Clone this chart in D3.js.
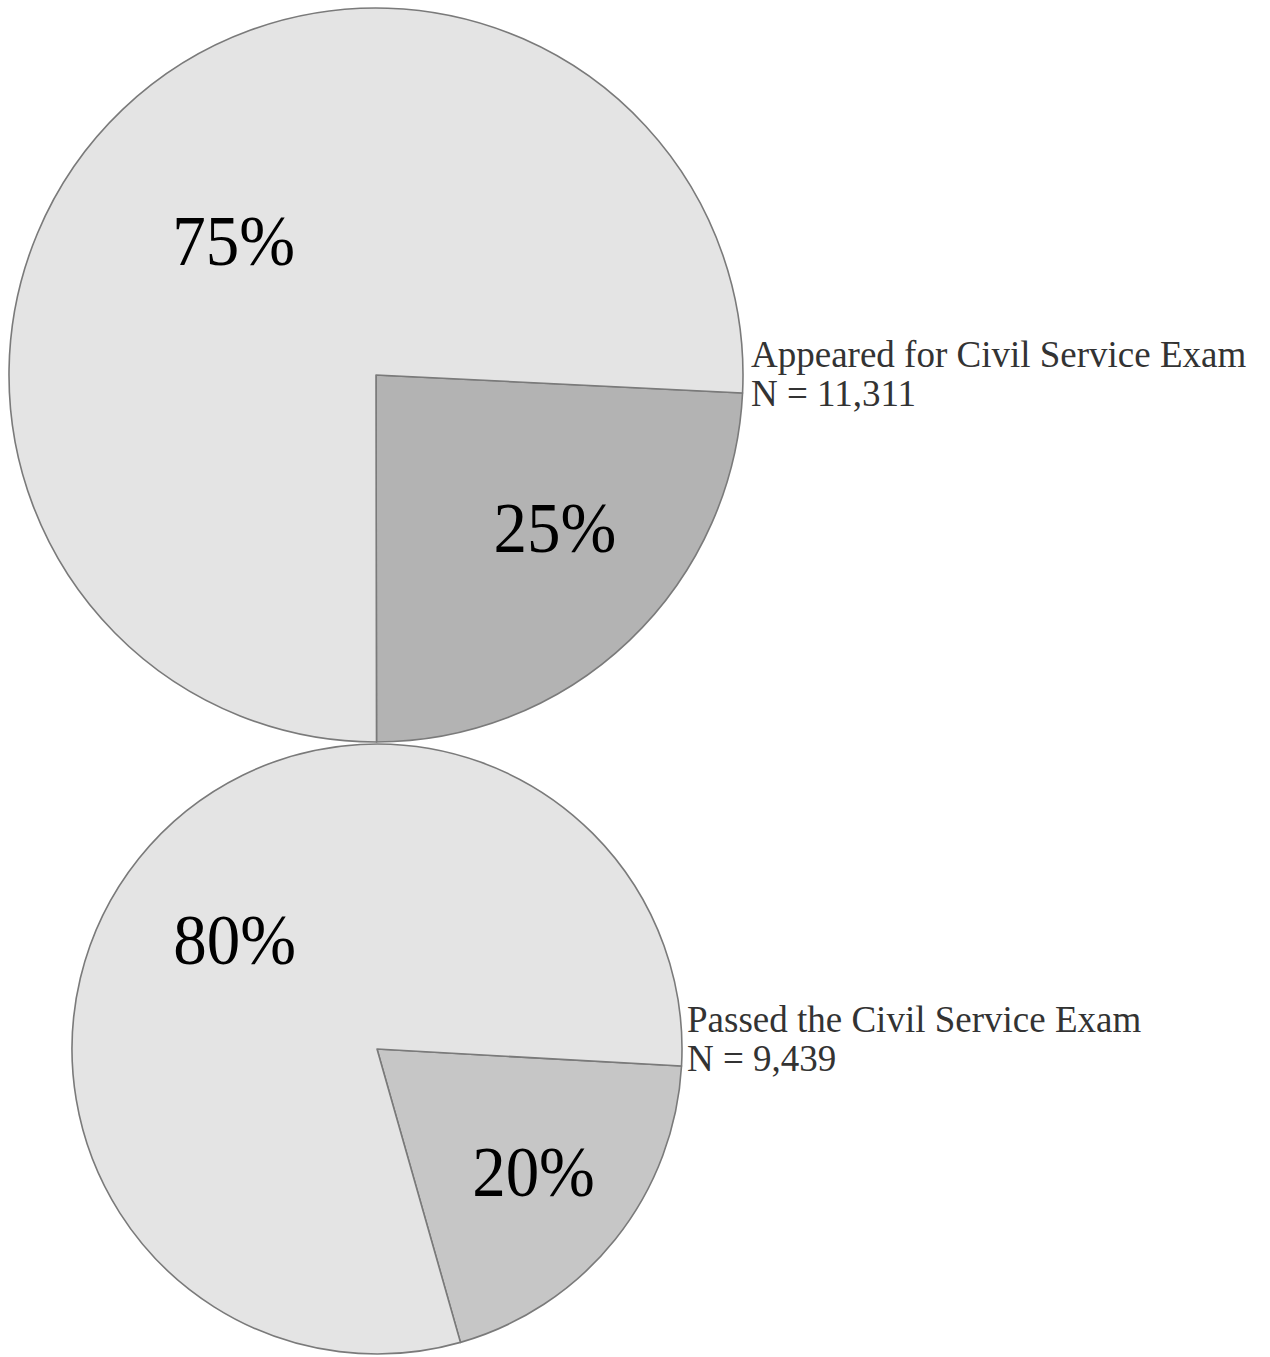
<!DOCTYPE html>
<html>
<head>
<meta charset="utf-8">
<script src="https://cdn.jsdelivr.net/npm/d3@7"></script>
<style>
  html, body { margin: 0; padding: 0; background: #fff; }
  svg { display: block; }
</style>
</head>
<body>
<div id="chart"></div>
<script>
// slice shares (small slice first, then the rest)
const appearedShares = [24.2, 75.8];
const appearedLabels = ["25%", "75%"];
const passedShares = [19.7, 80.3];
const passedLabels = ["20%", "80%"];
const pieTitles = ["Appeared for Civil Service Exam", "Passed the Civil Service Exam"];
const pieCounts = ["N = 11,311", "N = 9,439"];

const width = 1270, height = 1357;
const serif = "'Liberation Serif', 'Times New Roman', serif";

const svg = d3.select("#chart")
  .append("svg")
    .attr("width", width)
    .attr("height", height);

// layout of each pie; label placement = radius fraction + angle nudge (deg)
const pies = [
  {shares: appearedShares, labels: appearedLabels, title: pieTitles[0], count: pieCounts[0],
   cx: 376, cy: 375, r: 367, start: 92.8, fills: ["#b3b3b3", "#e4e4e4"],
   labelR: [0.64, 0.535], labelShift: [-6, -2.8], tx: 751, ty: 367},
  {shares: passedShares, labels: passedLabels, title: pieTitles[1], count: pieCounts[1],
   cx: 377, cy: 1049, r: 305, start: 93.2, fills: ["#c6c6c6", "#e4e4e4"],
   labelR: [0.65, 0.59], labelShift: [-0.8, -1], tx: 687, ty: 1032}
];

pies.forEach(p => {
  const a0 = p.start * Math.PI / 180;
  const pie = d3.pie().sort(null).startAngle(a0).endAngle(a0 + 2 * Math.PI);
  const arcs = pie(p.shares);
  const arc = d3.arc().innerRadius(0).outerRadius(p.r);

  const g = svg.append("g").attr("transform", `translate(${p.cx},${p.cy})`);

  g.selectAll("path")
    .data(arcs)
    .enter()
    .append("path")
      .attr("d", arc)
      .attr("fill", (d, i) => p.fills[i])
      .attr("stroke", "#7a7a7a")
      .attr("stroke-width", 1.6)
      .attr("stroke-linejoin", "round");

  g.selectAll("text.pct")
    .data(arcs)
    .enter()
    .append("text")
      .attr("class", "pct")
      .attr("transform", (d, i) => {
        const mid = (d.startAngle + d.endAngle) / 2 + p.labelShift[i] * Math.PI / 180;
        const rr = p.r * p.labelR[i];
        return `translate(${rr * Math.sin(mid)},${-rr * Math.cos(mid)}) scale(1,1.06)`;
      })
      .attr("text-anchor", "middle")
      .attr("dy", "0.35em")
      .attr("font-family", serif)
      .attr("font-size", 67)
      .attr("fill", "#000")
      .text((d, i) => p.labels[i]);

  // side label
  const t = svg.append("g").attr("transform", `translate(${p.tx},${p.ty})`);
  t.append("text")
    .attr("font-family", serif)
    .attr("font-size", 37)
    .attr("fill", "#333")
    .text(p.title);
  t.append("text")
    .attr("y", 39)
    .attr("font-family", serif)
    .attr("font-size", 37)
    .attr("fill", "#333")
    .text(p.count);
});
</script>
</body>
</html>
